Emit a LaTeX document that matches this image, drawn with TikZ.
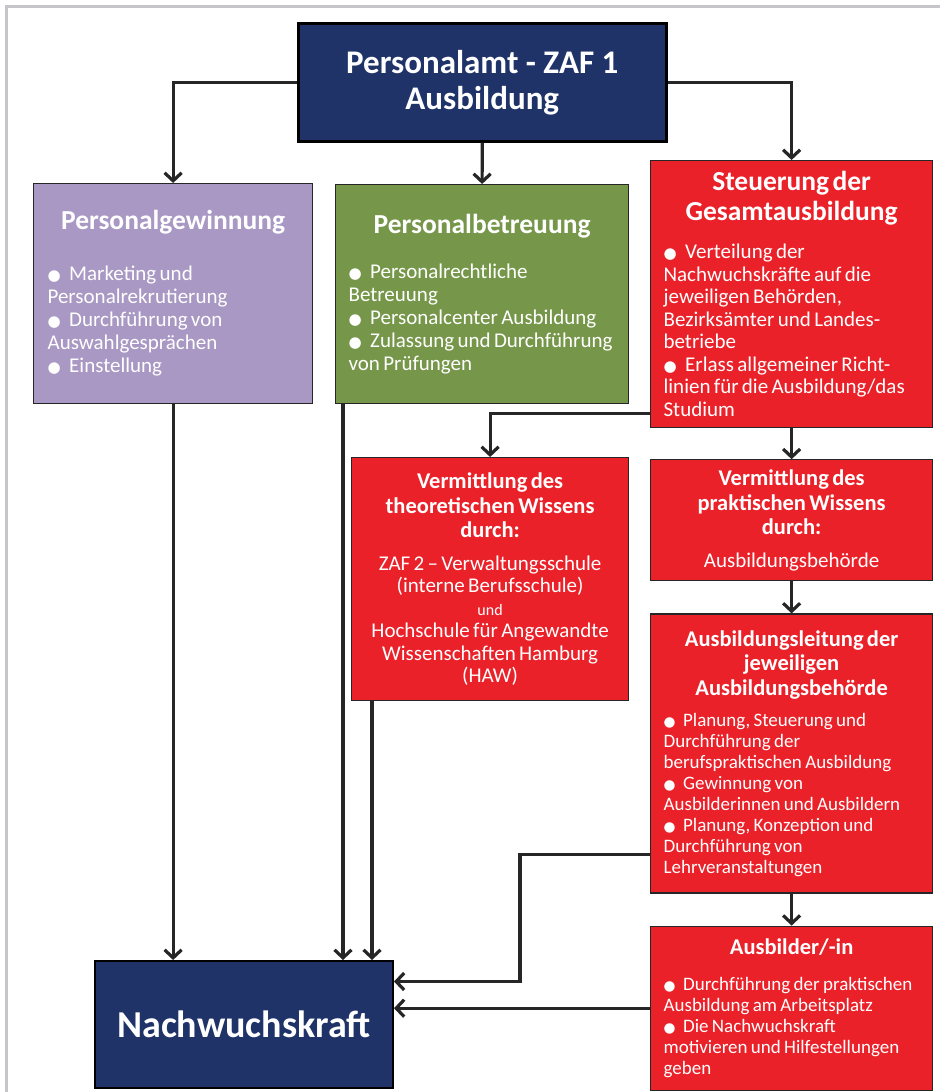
\documentclass[tikz,border=0pt]{standalone}
\usepackage{fontspec}
\setmainfont{Carlito}
\newfontfamily\dejavu{DejaVu Sans}
\usetikzlibrary{arrows.meta, positioning}
\definecolor{colorAmt}{HTML}{1F3368}
\definecolor{colorGewinnung}{HTML}{A898C3}
\definecolor{colorBetreuung}{HTML}{76974A}
\definecolor{colorRot}{HTML}{EA2129}
\definecolor{colorRahmen}{HTML}{C6C6CA}
\newcommand{\pkt}{{\dejavu\scalebox{.72}{●}}\hspace{.4em}}
\newcommand{\kopf}[3]{{\centering\fontsize{#1}{#2}\selectfont\bfseries #3\par}}
\newcommand{\rumpf}[3]{{\fontsize{#1}{#2}\selectfont\rightskip=-30pt plus 1fil\relax #3\par}}

\begin{document}
\begin{tikzpicture}[x=1pt, y=-1pt, >={Straight Barb[length=8pt, width=17pt]},
  box/.style={draw=black!85, line width=1.2pt, text=white, inner sep=0pt, align=left},
  rotbox/.style={box, fill=colorRot, minimum width=282, text width=256pt},
  pfeil/.style={->, line width=3.2pt, draw=black!85}]
\useasboundingbox (0,0) rectangle (940,1092);
\draw[colorRahmen, line width=3pt] (6.5,1092) -- (6.5,6.5) -- (940,6.5);

\node[box, draw=black, line width=2.5pt, fill=colorAmt, anchor=north west, minimum width=368, minimum height=118, align=center, font=\fontsize{33}{36}\selectfont\bfseries] (amt) at (297,22) {Personalamt - ZAF 1\\Ausbildung};

\node[box, fill=colorGewinnung, anchor=north west, minimum width=279, minimum height=220, text width=251pt] (gewinn) at (33,183) {\kopf{27.5}{30}{Personalgewinnung}\vspace{28pt}\rumpf{21}{23}{\pkt Marketing und\\Personalrekrutierung\\\pkt Durchführung von\\Auswahlgesprächen\\\pkt Einstellung}};
\node[box, fill=colorBetreuung, anchor=north west, minimum width=293, minimum height=219, text width=267pt] (betreu) at (335,184) {\kopf{27.5}{30}{Personalbetreuung}\vspace{22pt}\rumpf{21}{23}{\pkt Personalrechtliche\\Betreuung\\\pkt Personalcenter Ausbildung\\\pkt Zulassung und Durchführung\\von Prüfungen}};
\node[rotbox, anchor=north west, minimum height=267] (steuer) at (650,160) {\kopf{27.5}{29.5}{Steuerung der\\Gesamtausbildung}\vspace{16pt}\rumpf{21}{22.5}{\pkt Verteilung der\\Nachwuchskräfte auf die\\jeweiligen Behörden,\\Bezirksämter und Landes-\\betriebe\\\pkt Erlass allgemeiner Richt-\\linien für die Ausbildung/das\\Studium}};

\node[rotbox, anchor=north west, minimum width=277, text width=257pt, minimum height=243] (theorie) at (351,457) {\kopf{22.5}{24.5}{Vermittlung des\\theoretischen Wissens\\durch:}\vspace{10pt}{\centering\fontsize{21}{22.5}\selectfont ZAF 2 – Verwaltungsschule\\(interne Berufsschule)\\{\fontsize{16}{21.5}\selectfont und}\\Hochschule für Angewandte\\Wissenschaften Hamburg\\(HAW)\par}};
\node[rotbox, below=31pt of steuer, minimum height=121] (praxis) {\kopf{22.5}{24.5}{Vermittlung des\\praktischen Wissens\\durch:}\vspace{10pt}{\centering\fontsize{21}{22.5}\selectfont Ausbildungsbehörde\par}};
\node[rotbox, below=32pt of praxis, minimum height=279] (leitung) {\kopf{22.5}{24.5}{Ausbildungsleitung der\\jeweiligen\\Ausbildungsbehörde}\vspace{10pt}\rumpf{19}{21}{\pkt Planung, Steuerung und\\Durchführung der\\berufspraktischen Ausbildung\\\pkt Gewinnung von\\Ausbilderinnen und Ausbildern\\\pkt Planung, Konzeption und\\Durchführung von\\Lehrveranstaltungen}};
\node[rotbox, below=32pt of leitung, minimum height=164] (ausbilder) {\kopf{22.5}{24.5}{Ausbilder/-in}\vspace{15pt}\rumpf{19}{21}{\pkt Durchführung der praktischen\\Ausbildung am Arbeitsplatz\\\pkt Die Nachwuchskraft\\motivieren und Hilfestellungen\\geben}};

\node[box, draw=black, line width=2pt, fill=colorAmt, anchor=north west, minimum width=298, minimum height=127, font=\fontsize{38}{44}\selectfont\bfseries] (kraft) at (94,960) {Nachwuchskraft};

\coordinate (b1) at ([xshift=8pt]betreu.south west);
\coordinate (t1) at ([xshift=21pt]theorie.south west);
\coordinate (l1) at ([yshift=39pt]leitung.south west);
\coordinate (k1) at ([yshift=43pt]kraft.east);
\draw[pfeil] (amt.west) -| (gewinn.north);
\draw[pfeil] (amt.south) -- (betreu.north);
\draw[pfeil] (amt.east) -| (steuer.north);
\draw[pfeil] ([yshift=15pt]steuer.south west) -| (theorie.north);
\draw[pfeil] (steuer.south) -- (praxis.north);
\draw[pfeil] (praxis.south) -- (leitung.north);
\draw[pfeil] (leitung.south) -- (ausbilder.north);
\draw[pfeil] (gewinn.south) -- (gewinn.south |- kraft.north);
\draw[pfeil] (b1) -- (b1 |- kraft.north);
\draw[pfeil] (t1) -- (t1 |- kraft.north);
\draw[pfeil] (l1) -- ++(-130,0) |- (k1);
\draw[pfeil] (ausbilder.west) -- (ausbilder.west -| kraft.east);
\end{tikzpicture}
\end{document}
